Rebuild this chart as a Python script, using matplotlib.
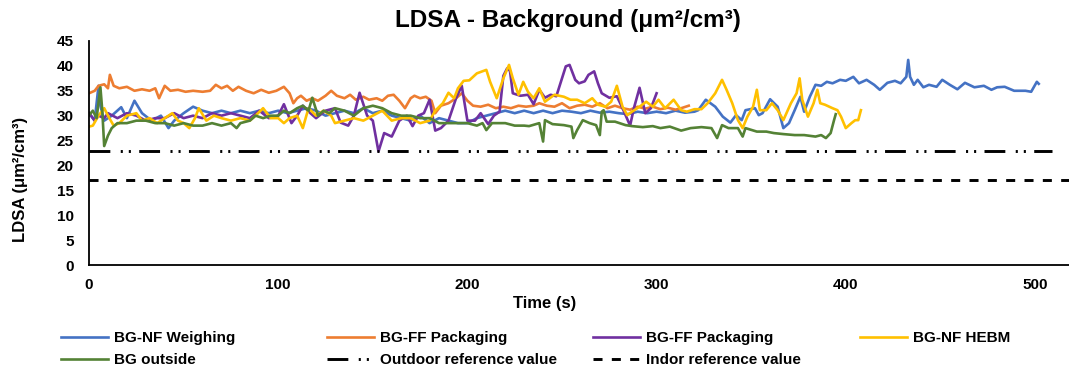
import matplotlib
matplotlib.use("Agg")
import matplotlib.pyplot as plt

plt.rcParams["font.family"] = ["Liberation Sans", "DejaVu Sans"]
plt.rcParams["font.weight"] = "bold"
plt.rcParams["lines.scale_dashes"] = False

# Series (time in s, LDSA in um2/cm3)
blue_t = [0, 3, 5, 6, 8, 12, 17, 20, 24, 28, 33, 38, 42, 45, 50, 55, 60, 65, 70, 75,
          80, 85, 90, 95, 100, 105, 110, 115, 120, 125, 130, 135, 140, 145, 150, 155,
          160, 165, 170, 175, 180, 185, 190, 195, 200, 205, 210, 215, 220, 225, 230,
          235, 240, 245, 250, 255, 260, 265, 270, 275, 280, 285, 290, 295, 300, 305,
          310, 315, 320, 322, 326, 331, 335, 339, 342, 345, 347, 352, 354, 356, 360,
          364, 367, 370, 373, 376, 378, 381, 384, 387, 390, 393, 397, 400, 404, 407,
          411, 415, 418, 422, 426, 429, 432, 433, 434, 436, 438, 441, 444, 448, 451,
          455, 459, 463, 468, 473, 477, 480, 484, 489, 495, 498, 501, 502]
blue_v = [30.5, 29, 36, 32, 29, 30, 31.7, 29.5, 33, 30.5, 29, 30, 27.5, 29, 30.5, 31.8,
          31, 30.5, 31, 30.5, 31, 30.5, 31, 30.5, 31, 30.5, 31, 31.5, 31, 30, 30.5, 31,
          30.5, 31.5, 30.5, 31, 30, 29.5, 29, 30, 28.5, 29.5, 29, 28.5, 28.5, 29.5, 30,
          30.5, 31, 30.5, 31, 30.5, 31, 30.5, 31, 30.8, 30.5, 31, 30.6, 30.8, 30.5, 30.3,
          30.8, 30.5, 30.8, 30.5, 31, 30.6, 30.8, 31.1, 33.2, 31.8, 29.8, 28.6, 30.1,
          29.1, 31.1, 31.5, 30.1, 30.5, 33.3, 31.8, 27.5, 28.5, 31.1, 33.8, 30.8, 33.8,
          36.2, 36, 36.8, 36.5, 37.2, 37, 37.8, 36.5, 37.2, 36.2, 35.2, 36.6, 37, 36.5,
          37.8, 41.2, 37.8, 36.2, 37.2, 35.7, 36.2, 35.8, 37.2, 36.2, 35.3, 36.6, 35.7,
          36, 35.2, 35.7, 35.8, 35, 35, 34.8, 36.8, 36.4]

orange_t = [0, 3, 5, 8, 10, 11, 13, 16, 20, 24, 28, 32, 35, 37, 40, 43, 47, 51, 55, 60,
            64, 67, 70, 73, 76, 79, 83, 87, 91, 95, 99, 103, 106, 108, 110, 112, 115,
            118, 121, 125, 128, 131, 135, 138, 141, 145, 148, 152, 155, 158, 161, 164,
            167, 170, 172, 175, 178, 181, 183, 186, 190, 194, 197, 200, 203, 207, 211,
            215, 219, 223, 227, 231, 235, 238, 242, 246, 250, 254, 258, 262, 266, 270,
            274, 278, 282, 286, 290, 294, 298, 302, 306, 310, 313, 317]
orange_v = [34.5, 35, 36, 36.3, 35.5, 38.2, 36, 35.5, 35.8, 35, 35.3, 35, 35.5, 33.5, 36,
            35, 35.2, 34.8, 35, 34.8, 35, 36.2, 35.5, 36, 35, 35.8, 35, 34.5, 35.2, 34.6,
            35, 35.8, 34.5, 32.5, 33.5, 34, 33, 33.5, 33, 34, 35, 34, 33.5, 34.2, 33.2,
            33.8, 33.2, 33.5, 33, 34, 34.2, 33, 31.5, 33.5, 34, 33.5, 33.8, 33, 30.5, 32,
            32.5, 33.5, 34.5, 33, 32, 31.8, 32.2, 31.5, 31.8, 31.5, 32, 31.8, 32, 32.5,
            32, 31.8, 32.5, 31.5, 32, 32.2, 31.8, 32.5, 31.5, 32, 31.5, 31.2, 31.8, 31.4,
            31.8, 31.3, 31.6, 31.2, 31.5, 32]

purple_t = [0, 3, 5, 8, 10, 15, 20, 25, 30, 35, 40, 45, 50, 55, 60, 65, 70, 75, 80, 85,
            90, 95, 100, 103, 107, 110, 113, 117, 120, 125, 130, 133, 137, 140, 143, 147,
            150, 153, 156, 160, 164, 168, 171, 174, 177, 180, 183, 186, 190, 194, 197,
            200, 204, 207, 211, 214, 217, 219, 221, 222.5, 224, 228, 232, 235, 238, 241,
            244, 247, 252, 254, 257, 259, 262, 264, 267, 269, 271, 275, 279, 282, 286,
            288, 291, 294, 297, 300]
purple_v = [30.5, 29, 30, 29.5, 30.5, 29.5, 30.5, 30, 29, 29.5, 29.5, 30.5, 29.5, 30,
            29.5, 30.5, 30, 30.5, 30, 29.5, 31, 29.5, 30, 32.3, 28.5, 30, 32, 30.5, 29.5,
            31, 31.5, 28.6, 28, 30, 34.6, 30, 29, 22.8, 26.5, 25.8, 29, 30, 27.9, 30,
            30.5, 33.2, 27, 27.5, 29, 33.5, 36, 29, 29, 30.5, 28.3, 30, 30.8, 38, 39.5,
            39, 34.5, 34, 34.2, 32.3, 35.2, 33.6, 34.2, 33.9, 39.9, 40.2, 37.2, 36.5,
            36.9, 38.2, 38.9, 36.5, 34.5, 33.6, 33.9, 31.5, 28, 31.5, 35.6, 30.5, 31.5,
            34.5]

yellow_t = [0, 2, 5, 8, 10, 13, 16, 20, 25, 28, 32, 36, 40, 44, 47, 50, 53, 56, 58, 62,
            66, 70, 75, 80, 85, 88, 92, 96, 100, 103, 106, 110, 113, 116, 120, 124, 128,
            130, 135, 140, 145, 150, 155, 160, 165, 170, 175, 180, 183, 187, 190, 193,
            195, 198, 201, 205, 210, 212, 215.5, 219, 222, 224, 227, 229.5, 232, 235,
            238, 241, 246, 251, 254.5, 258, 262, 266, 269, 273, 276, 279, 282, 284.5,
            287, 291, 294.5, 298, 301, 304.5, 309, 313, 316, 320, 323.7, 327, 331,
            334.6, 337, 340, 343, 345.5, 348, 351, 353, 354.6, 358, 361, 364, 367, 371,
            374, 375.6, 377, 380, 383, 385, 386.5, 389, 393, 395.6, 397.5, 400, 403, 405,
            406.6, 408]
yellow_v = [27.8, 28, 30, 31.5, 30, 28, 28.5, 30, 30.5, 29, 29.5, 28.5, 29.5, 30.5, 29,
            28.5, 27.5, 29.5, 31.5, 29, 30, 29.5, 29, 29.5, 29, 30, 31.5, 29.5, 29.5, 28.5,
            29.5, 30, 27.5, 31.5, 30, 31, 30, 28.5, 29, 29.5, 29, 30, 31, 29, 29.5, 29.5,
            28.5, 29, 31, 32.5, 34.6, 33.5, 35.5, 37, 37.1, 38.5, 39.2, 36.8, 33.5, 37.5,
            40.2, 37.5, 34.2, 36.8, 34.8, 33.5, 35.5, 32.8, 34.2, 33.8, 33.2, 33.2, 32.5,
            33.5, 32.2, 31.8, 32.8, 36, 31.8, 30.1, 30.8, 31.8, 32.8, 31.8, 33.2, 31.5,
            33.2, 31.1, 30.8, 31.3, 31.3, 32.5, 34.5, 37.2, 35.2, 32.5, 29.1, 27.5, 29.8,
            31.8, 35.2, 31.1, 31.1, 32.5, 31.1, 29.1, 32.5, 34.5, 37.5, 33.2, 29.8, 32.5,
            35.2, 32.5, 32.2, 31.5, 31.1, 29.8, 27.5, 28.5, 29.1, 29.1, 31.1]

green_t = [0, 2, 4, 6, 7, 8, 10, 12, 15, 20, 25, 30, 35, 40, 45, 50, 55, 60, 65, 70, 75,
           78, 80, 85, 88, 92, 96, 100, 103, 106, 110, 113, 116, 118, 121, 124, 127, 130,
           135, 140, 145, 150, 155, 160, 165, 170, 175, 180, 185, 190, 195, 200, 205,
           208, 210, 213, 220, 225, 230, 232.6, 238, 240, 241, 245, 251, 255, 256, 258,
           261, 264.6, 268, 270, 271, 272, 273.6, 278, 283.6, 287, 292.7, 298, 302, 307,
           313, 318, 323.7, 329, 332, 334.6, 338, 343, 345.5, 347, 353, 358, 362, 367,
           373, 378, 384, 387, 389.5, 392, 393.8, 394.7]
green_v = [30.1, 31, 29.5, 35.7, 31, 23.9, 26, 27.5, 28.5, 28.5, 29, 29, 28.5, 28.5, 28,
           28.5, 28, 28, 28.5, 28, 28.5, 27.5, 28.5, 29, 30, 29.5, 30, 30, 31, 30.5, 31.5,
           32, 31, 33.6, 30, 31, 30.5, 31.5, 31, 30, 31.5, 32, 31.5, 30.5, 30, 30, 29.5,
           29.5, 28.5, 28.5, 28.5, 28.5, 28, 28.5, 27.1, 28.5, 28.5, 28, 28, 27.9, 28.5,
           24.8, 29.1, 28.3, 28.1, 27.8, 25.5, 27.1, 29.1, 28.5, 28.1, 26.1, 30.8, 31.1,
           28.8, 28.8, 28.1, 27.9, 27.7, 27.9, 27.5, 27.8, 27, 27.5, 27.7, 27.5, 25.5,
           28.1, 27.5, 27.5, 25.8, 27.5, 26.8, 26.8, 26.5, 26.3, 26.1, 26.1, 25.8, 26.1,
           25.5, 26.5, 29.1, 30.3]

outdoor_t = [0, 509]
outdoor_v = [23, 23]
indoor_t = [0, 518]
indoor_v = [17, 17]

fig = plt.figure(figsize=(10.69, 3.71), dpi=100)
ax = fig.add_axes([0.0833, 0.2857, 0.9167, 0.6038])

lw = 1.9
l1, = ax.plot(blue_t, blue_v, color="#4472C4", lw=lw, label="BG-NF Weighing")
l2, = ax.plot(orange_t, orange_v, color="#ED7D31", lw=lw, label="BG-FF Packaging")
l3, = ax.plot(purple_t, purple_v, color="#7030A0", lw=lw, label="BG-FF Packaging")
l4, = ax.plot(yellow_t, yellow_v, color="#FFC000", lw=lw, label="BG-NF HEBM")
l5, = ax.plot(green_t, green_v, color="#548235", lw=lw, label="BG outside")
l6, = ax.plot(outdoor_t, outdoor_v, color="black", lw=2.1,
              linestyle=(0, (15, 7.5, 1.5, 4.3, 1.5, 6)),
              label="Outdoor reference value")
l7, = ax.plot(indoor_t, indoor_v, color="black", lw=2.1,
              linestyle=(0, (6.5, 6.7)), label="Indor reference value")

ax.set_xlim(0, 518)
ax.set_ylim(0, 45)
ax.set_xticks(range(0, 501, 100))
ax.set_yticks(range(0, 46, 5))
ax.tick_params(axis="both", length=0, labelsize=11)
ax.tick_params(axis="y", pad=11)
ax.tick_params(axis="x", pad=9)
for s in ["top", "right"]:
    ax.spines[s].set_visible(False)
for s in ["left", "bottom"]:
    ax.spines[s].set_linewidth(1.3)

ax.set_xlabel("Time (s)", fontsize=12, fontweight="bold")
ax.xaxis.set_label_coords(0.465, -0.138)
ax.set_ylabel("LDSA (μm²/cm³)", fontsize=12, fontweight="bold")
ax.yaxis.set_label_coords(-0.062, 0.384)

fig.text(0.531, 0.945, "LDSA - Background (μm²/cm³)", fontsize=17.5,
         fontweight="bold", ha="center", va="center")

# legend entries placed one by one, like the Excel layout
entries = [(l1, 0.057, 0.089), (l2, 0.306, 0.089), (l3, 0.555, 0.089),
           (l4, 0.8045, 0.089), (l5, 0.057, 0.030), (l6, 0.306, 0.030),
           (l7, 0.555, 0.030)]
for h, x, y in entries:
    fig.legend(handles=[h], loc="center left", bbox_to_anchor=(x, y),
               frameon=False, borderpad=0, borderaxespad=0,
               handlelength=3.07, handletextpad=0.4,
               prop={"size": 11, "weight": "bold"})

fig.savefig("out.png", dpi=100)
